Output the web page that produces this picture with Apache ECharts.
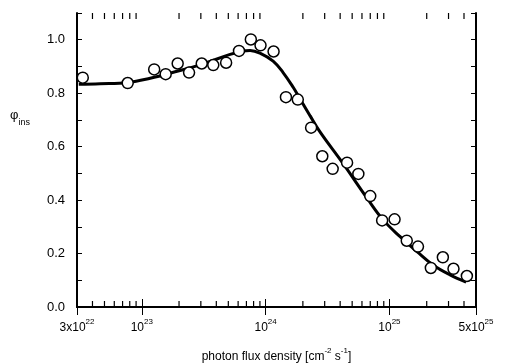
<!DOCTYPE html>
<html>
<head>
<meta charset="utf-8">
<script src="https://cdn.jsdelivr.net/npm/echarts@6/dist/echarts.min.js"></script>
<style>
  html, body { margin: 0; padding: 0; background: #fff; }
  #chart { width: 505px; height: 364px; }
</style>
</head>
<body>
<div id="chart"></div>
<script>
// measured points (photon flux density, phi_ins)
const fluxPoints = [3.34e22, 7.7e22, 1.26e23, 1.56e23, 1.95e23, 2.41e23, 3.05e23, 3.78e23, 4.8e23, 6.1e23,
    7.6e23, 9.1e23, 1.16e24, 1.46e24, 1.82e24, 2.33e24, 2.87e24, 3.48e24, 4.55e24, 5.61e24,
    7.0e24, 8.73e24, 1.10e25, 1.38e25, 1.70e25, 2.16e25, 2.70e25, 3.29e25, 4.22e25];
const phiPoints = [0.858, 0.838, 0.889, 0.871, 0.911, 0.877, 0.911, 0.905, 0.914, 0.958,
    1.001, 0.979, 0.956, 0.785, 0.776, 0.671, 0.564, 0.517, 0.540, 0.498,
    0.415, 0.324, 0.328, 0.248, 0.226, 0.146, 0.186, 0.143, 0.116];

// fitted curve
const fitFlux = [3.1e22, 4.6e22, 7.75e22, 1.17e23, 1.86e23, 2.96e23, 5.17e23, 6.6e23, 7.5e23, 9.0e23,
    1.15e24, 1.38e24, 1.67e24, 1.90e24, 2.29e24, 2.75e24, 4.2e24, 6.6e24, 8.9e24, 1.22e25,
    1.67e25, 2.25e25, 3.09e25, 4.16e25];
const fitPhi = [0.833, 0.835, 0.840, 0.856, 0.880, 0.906, 0.945, 0.958, 0.960, 0.950,
    0.920, 0.878, 0.822, 0.778, 0.715, 0.655, 0.538, 0.407, 0.326, 0.263,
    0.207, 0.157, 0.120, 0.093];

const xMin = 3e22, xMax = 5e25;
const yMin = 0, yMax = 1.1;
// minor ticks 2..9 x 10^n inside the range
const minorTicks = [4e22, 5e22, 6e22, 7e22, 8e22, 9e22,
    2e23, 3e23, 4e23, 5e23, 6e23, 7e23, 8e23, 9e23,
    2e24, 3e24, 4e24, 5e24, 6e24, 7e24, 8e24, 9e24,
    2e25, 3e25, 4e25];

const chart = echarts.init(document.getElementById('chart'));
const font = 'Liberation Sans, Arial, Helvetica, sans-serif';

const supRich = {
    base: {fontSize: 12, fontFamily: font, color: '#000', lineHeight: 16, verticalAlign: 'bottom'},
    sup: {fontSize: 8, fontFamily: font, color: '#000', lineHeight: 10, verticalAlign: 'top'}
};

function fmtFlux(v) {
    const e = Math.floor(Math.log10(v) + 1e-9);
    const m = Math.round(v / Math.pow(10, e));
    if (m === 1) return '{base|10}{sup|' + e + '}';
    return '{base|' + m + 'x10}{sup|' + e + '}';
}

const line = {lineStyle: {color: '#000', width: 2}};
const tick = len => ({show: true, inside: true, length: len, lineStyle: {color: '#000', width: 1}});

const xBase = {
    type: 'log', logBase: 10, min: xMin, max: xMax,
    splitLine: {show: false}
};

// small inward ticks at 2..9 x 10^n; one item per edge (y value = edge)
function renderMinorTick(params, api) {
    const p = api.coord([api.value(0), api.value(1)]);
    const dir = api.value(2);
    return {
        type: 'line',
        shape: {x1: p[0], y1: p[1], x2: p[0], y2: p[1] + dir * 6},
        style: {stroke: '#000', lineWidth: 1.2}
    };
}
const minorTickData = minorTicks.map(v => [v, yMin, -1]).concat(minorTicks.map(v => [v, yMax, 1]));

chart.setOption({
    animation: false,
    backgroundColor: '#fff',
    grid: {left: 77, right: 29, top: 13, bottom: 57, outerBoundsMode: 'none', containLabel: false},
    xAxis: [
        Object.assign({}, xBase, {
            position: 'bottom',
            axisLine: {show: true, ...line},
            axisTick: tick(8),
            axisLabel: {formatter: fmtFlux, rich: supRich, margin: 11, color: '#000'},
            name: '{base|photon flux density [cm}{sup|-2}{base| s}{sup|-1}{base|]}',
            nameLocation: 'middle', nameGap: 40,
            nameTextStyle: {rich: supRich}
        }),
        Object.assign({}, xBase, {
            position: 'top',
            axisLine: {show: true, ...line},
            axisTick: tick(8),
            axisLabel: {show: false}
        })
    ],
    yAxis: [
        {
            type: 'value', min: yMin, max: yMax, interval: 0.1, position: 'left',
            axisLine: {show: true, ...line},
            axisTick: tick(5),
            splitLine: {show: false},
            axisLabel: {
                color: '#000', fontSize: 13, fontFamily: font, margin: 12,
                formatter: v => {
                    const k = Math.round(v * 10);
                    return (k % 2 === 0 && k <= 10) ? (k / 10).toFixed(1) : '';
                }
            },
            name: '{phi|φ}{sub|ins}',
            nameLocation: 'middle', nameRotate: 0, nameGap: 47,
            nameTextStyle: {
                align: 'right', padding: [0, 0, 84, 0],
                rich: {
                    phi: {fontSize: 13, fontFamily: font, color: '#000', lineHeight: 14, verticalAlign: 'top'},
                    sub: {fontSize: 9, fontFamily: font, color: '#000', lineHeight: 18, verticalAlign: 'bottom'}
                }
            }
        },
        {
            type: 'value', min: yMin, max: yMax, interval: 0.1, position: 'right',
            axisLine: {show: true, ...line},
            axisTick: tick(5),
            splitLine: {show: false},
            axisLabel: {show: false}
        }
    ],
    series: [
        {
            type: 'custom', renderItem: renderMinorTick, silent: true,
            data: minorTickData, encode: {x: 0, y: 1}, clip: false, z: 5
        },
        {
            type: 'line', smooth: 0.4, showSymbol: false, symbol: 'none',
            data: fitFlux.map((x, i) => [x, fitPhi[i]]),
            lineStyle: {color: '#000', width: 3}, z: 2
        },
        {
            type: 'scatter', symbol: 'circle', symbolSize: 11,
            data: fluxPoints.map((x, i) => [x, phiPoints[i]]),
            itemStyle: {color: '#fff', borderColor: '#000', borderWidth: 1.5, opacity: 1}, z: 3
        }
    ]
});
</script>
</body>
</html>
